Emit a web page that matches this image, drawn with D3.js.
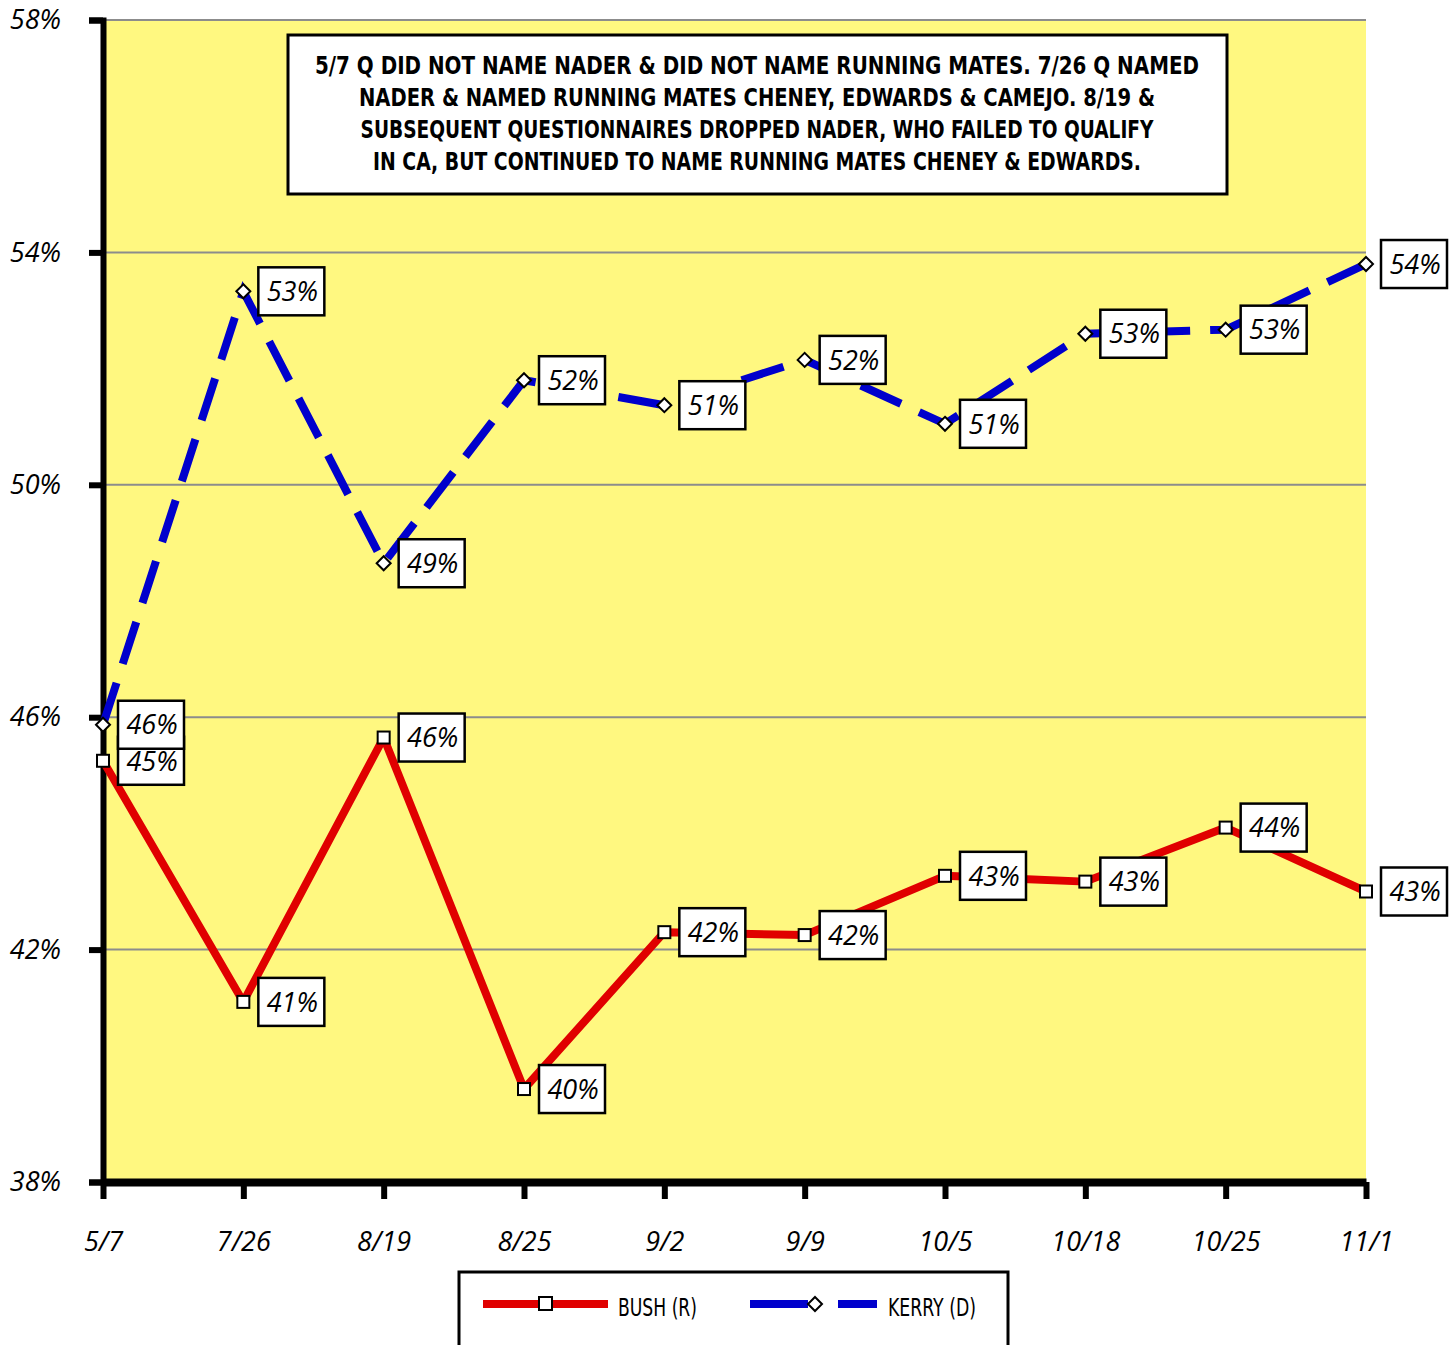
<!DOCTYPE html>
<html>
<head>
<meta charset="utf-8">
<script src="https://cdn.jsdelivr.net/npm/d3@7"></script>
<style>
body { margin: 0; background: #fff; }
</style>
</head>
<body>
<script>
// poll dates and results
var dates = ["5/7", "7/26", "8/19", "8/25", "9/2", "9/9", "10/5", "10/18", "10/25", "11/1"];
var bush = [45.25, 41.1, 45.65, 39.6, 42.3, 42.25, 43.27, 43.17, 44.1, 43.0];
var kerry = [45.87, 53.33, 48.65, 51.8, 51.37, 52.15, 51.05, 52.6, 52.67, 53.8];
var bushLabels = ["45%", "41%", "46%", "40%", "42%", "42%", "43%", "43%", "44%", "43%"];
var kerryLabels = ["46%", "53%", "49%", "52%", "51%", "52%", "51%", "53%", "53%", "54%"];
var yTicks = [38, 42, 46, 50, 54, 58];
var noteLines = [
  "5/7 Q DID NOT NAME NADER & DID NOT NAME RUNNING MATES. 7/26 Q NAMED",
  "NADER & NAMED RUNNING MATES CHENEY, EDWARDS & CAMEJO. 8/19 &",
  "SUBSEQUENT QUESTIONNAIRES DROPPED NADER, WHO FAILED TO QUALIFY",
  "IN CA, BUT CONTINUED TO NAME RUNNING MATES CHENEY & EDWARDS."
];
var noteWidths = [884, 796, 793, 768];

var width = 1456;
var height = 1345;
var margin = {top: 20, left: 103, right: 90, bottom: 163};

var red = "#e00000";
var blue = "#0000cc";
var labelFont = "'Open Sans', 'DejaVu Sans', sans-serif";
var narrowFont = "'DejaVu Sans Condensed', 'DejaVu Sans', sans-serif";

var svg = d3.select("body")
  .append("svg")
  .attr("width", width)
  .attr("height", height);

var xScale = d3.scalePoint()
  .domain(dates)
  .range([margin.left, width - margin.right]);

var yScale = d3.scaleLinear()
  .domain([38, 58])
  .range([height - margin.bottom, margin.top]);

// plot background
svg.append("rect")
  .attr("x", margin.left)
  .attr("y", margin.top)
  .attr("width", width - margin.right - margin.left)
  .attr("height", height - margin.bottom - margin.top)
  .attr("fill", "#fff880");

// gridlines
svg.append("g")
  .selectAll("line")
  .data(yTicks.slice(1))
  .join("line")
  .attr("x1", margin.left)
  .attr("x2", width - margin.right)
  .attr("y1", d => yScale(d))
  .attr("y2", d => yScale(d))
  .attr("stroke", "#8c8c8c")
  .attr("stroke-width", 2);

// y axis
var yAxis = svg.append("g")
  .attr("transform", `translate(${margin.left},0)`)
  .call(d3.axisLeft(yScale).tickValues(yTicks).tickSize(14).tickPadding(28).tickFormat(d => d + "%"));
yAxis.select(".domain").attr("stroke", "#000").attr("stroke-width", 6);
yAxis.selectAll(".tick line").attr("stroke", "#000").attr("stroke-width", 6);
yAxis.selectAll(".tick text")
  .attr("font-family", labelFont)
  .attr("font-style", "italic")
  .attr("font-size", "27px")
  .attr("fill", "#000");

// x axis
var xAxis = svg.append("g")
  .attr("transform", `translate(0,${height - margin.bottom})`)
  .call(d3.axisBottom(xScale).tickSize(17).tickSizeOuter(0).tickPadding(33));
xAxis.select(".domain").attr("stroke", "#000").attr("stroke-width", 8);
xAxis.selectAll(".tick line").attr("stroke", "#000").attr("stroke-width", 6);
xAxis.selectAll(".tick text")
  .attr("font-family", labelFont)
  .attr("font-style", "italic")
  .attr("font-size", "27px")
  .attr("fill", "#000");

// note box
var note = svg.append("g");
note.append("rect")
  .attr("x", 288).attr("y", 35)
  .attr("width", 939).attr("height", 159)
  .attr("fill", "#fff").attr("stroke", "#000").attr("stroke-width", 3);
note.selectAll("text")
  .data(noteLines)
  .join("text")
  .attr("x", 757)
  .attr("y", (d, i) => 65 + i * 32)
  .attr("dy", "0.36em")
  .attr("text-anchor", "middle")
  .attr("font-family", narrowFont)
  .attr("font-weight", "bold")
  .attr("font-size", "25px")
  .attr("textLength", (d, i) => noteWidths[i])
  .attr("lengthAdjust", "spacingAndGlyphs")
  .text(d => d);

var line = d3.line()
  .x((d, i) => xScale(dates[i]))
  .y(d => yScale(d));

svg.append("path")
  .datum(bush)
  .attr("d", line)
  .attr("fill", "none")
  .attr("stroke", red)
  .attr("stroke-width", 8)
  .attr("stroke-linejoin", "round");

svg.append("path")
  .datum(kerry)
  .attr("d", line)
  .attr("fill", "none")
  .attr("stroke", blue)
  .attr("stroke-width", 8)
  .attr("stroke-dasharray", "44,20");

// markers
svg.append("g")
  .selectAll("rect")
  .data(bush)
  .join("rect")
  .attr("x", (d, i) => xScale(dates[i]) - 6)
  .attr("y", d => yScale(d) - 6)
  .attr("width", 12).attr("height", 12)
  .attr("fill", "#fff").attr("stroke", "#000").attr("stroke-width", 2);

svg.append("g")
  .selectAll("path")
  .data(kerry)
  .join("path")
  .attr("transform", (d, i) => `translate(${xScale(dates[i])},${yScale(d)})`)
  .attr("d", "M0,-7L7,0L0,7L-7,0Z")
  .attr("fill", "#fff").attr("stroke", "#000").attr("stroke-width", 2);

// value labels
function drawLabels(values, labels) {
  var g = svg.append("g")
    .selectAll("g")
    .data(values)
    .join("g")
    .attr("transform", (d, i) => `translate(${xScale(dates[i]) + 15},${yScale(d)})`);
  g.append("rect")
    .attr("x", 0).attr("y", -24)
    .attr("width", 66).attr("height", 48)
    .attr("fill", "#fff").attr("stroke", "#000").attr("stroke-width", 2.5);
  g.append("text")
    .attr("x", 34).attr("y", 0).attr("dy", "0.36em")
    .attr("text-anchor", "middle")
    .attr("font-family", labelFont)
    .attr("font-style", "italic")
    .attr("font-size", "27px")
    .text((d, i) => labels[i]);
}
drawLabels(bush, bushLabels);
drawLabels(kerry, kerryLabels);

// legend
var legend = svg.append("g");
legend.append("rect")
  .attr("x", 459).attr("y", 1272)
  .attr("width", 549).attr("height", 90)
  .attr("fill", "#fff").attr("stroke", "#000").attr("stroke-width", 3);
legend.append("line")
  .attr("x1", 483).attr("x2", 608).attr("y1", 1304).attr("y2", 1304)
  .attr("stroke", red).attr("stroke-width", 8);
legend.append("rect")
  .attr("x", 539).attr("y", 1297).attr("width", 13).attr("height", 13)
  .attr("fill", "#fff").attr("stroke", "#000").attr("stroke-width", 2);
legend.append("text")
  .attr("x", 618).attr("y", 1307).attr("dy", "0.36em")
  .attr("font-family", narrowFont).attr("font-size", "25px")
  .attr("textLength", 79).attr("lengthAdjust", "spacingAndGlyphs")
  .text("BUSH (R)");
legend.append("line")
  .attr("x1", 750).attr("x2", 808).attr("y1", 1304).attr("y2", 1304)
  .attr("stroke", blue).attr("stroke-width", 8);
legend.append("line")
  .attr("x1", 838).attr("x2", 877).attr("y1", 1304).attr("y2", 1304)
  .attr("stroke", blue).attr("stroke-width", 8);
legend.append("path")
  .attr("transform", "translate(815,1304)")
  .attr("d", "M0,-7L7,0L0,7L-7,0Z")
  .attr("fill", "#fff").attr("stroke", "#000").attr("stroke-width", 2);
legend.append("text")
  .attr("x", 888).attr("y", 1307).attr("dy", "0.36em")
  .attr("font-family", narrowFont).attr("font-size", "25px")
  .attr("textLength", 88).attr("lengthAdjust", "spacingAndGlyphs")
  .text("KERRY (D)");
</script>
</body>
</html>
